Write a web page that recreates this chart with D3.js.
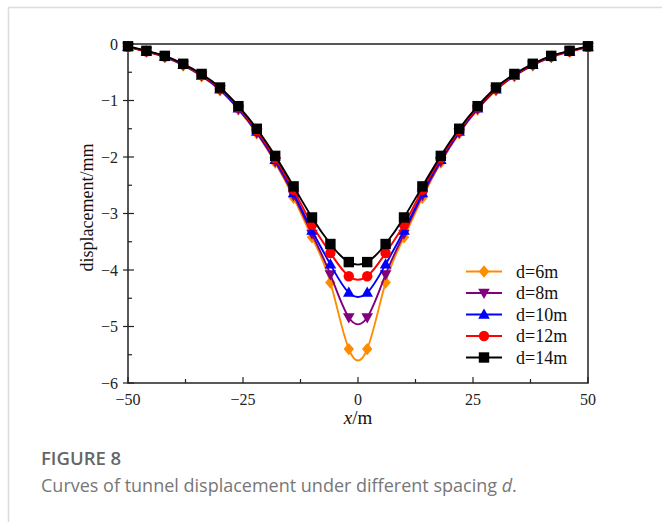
<!DOCTYPE html>
<html>
<head>
<meta charset="utf-8" />
<script src="https://d3js.org/d3.v7.min.js"></script>
<style>
  body { margin: 0; background: #fff; }
  svg { display: block; }
  .caption-title { font-family: "Open Sans", "Noto Sans", sans-serif; font-weight: 600; fill: #666; }
  .caption-text { font-family: "Open Sans", "Noto Sans", sans-serif; fill: #777; }
</style>
</head>
<body>
<div id="chart"></div>
<script>
// x positions (m)
var xs = [-50, -46, -42, -38, -34, -30, -26, -22, -18, -14, -10, -6, -2,
          2, 6, 10, 14, 18, 22, 26, 30, 34, 38, 42, 46, 50];

// displacement (mm) for each spacing d
var d6 = [-0.05, -0.14, -0.23, -0.38, -0.57, -0.82, -1.16, -1.58, -2.10, -2.72, -3.42, -4.22, -5.40,
          -5.40, -4.22, -3.42, -2.72, -2.10, -1.58, -1.16, -0.82, -0.57, -0.38, -0.23, -0.14, -0.05];
var d8 = [-0.05, -0.13, -0.23, -0.37, -0.56, -0.81, -1.15, -1.57, -2.08, -2.68, -3.36, -4.08, -4.84,
          -4.84, -4.08, -3.36, -2.68, -2.08, -1.57, -1.15, -0.81, -0.56, -0.37, -0.23, -0.13, -0.05];
var d10 = [-0.05, -0.13, -0.22, -0.37, -0.56, -0.80, -1.14, -1.55, -2.05, -2.64, -3.30, -3.90, -4.40,
           -4.40, -3.90, -3.30, -2.64, -2.05, -1.55, -1.14, -0.80, -0.56, -0.37, -0.22, -0.13, -0.05];
var d12 = [-0.05, -0.13, -0.22, -0.36, -0.55, -0.79, -1.12, -1.53, -2.02, -2.58, -3.20, -3.70, -4.11,
           -4.11, -3.70, -3.20, -2.58, -2.02, -1.53, -1.12, -0.79, -0.55, -0.36, -0.22, -0.13, -0.05];
var d14 = [-0.04, -0.12, -0.21, -0.35, -0.53, -0.77, -1.10, -1.50, -1.98, -2.52, -3.07, -3.54, -3.86,
           -3.86, -3.54, -3.07, -2.52, -1.98, -1.50, -1.10, -0.77, -0.53, -0.35, -0.21, -0.12, -0.04];

var labels = ["d=6m", "d=8m", "d=10m", "d=12m", "d=14m"];
var colors = ["#ff8c00", "#800080", "#0000ff", "#ff0000", "#000000"];
var symbols = ["diamond", "down", "up", "circle", "square"];
var xTicks = [-50, -25, 0, 25, 50];
var yTicks = [0, -1, -2, -3, -4, -5, -6];

var series = [d6, d8, d10, d12, d14].map(function (vals, i) {
  return {
    name: labels[i], color: colors[i], symbol: symbols[i],
    values: xs.map(function (x, j) { return { x: x, y: vals[j] }; })
  };
});

var W = 662, H = 522;
var margin = { top: 44, right: 74, bottom: 139, left: 128 };
var width = W - margin.left - margin.right,
    height = H - margin.top - margin.bottom;

var svg = d3.select("#chart").append("svg").attr("width", W).attr("height", H);

// panel border lines (top and left)
svg.append("line").attr("x1", 8).attr("x2", W).attr("y1", 7.5).attr("y2", 7.5)
  .attr("stroke", "#dcdcdc").attr("stroke-width", 1.5);
svg.append("line").attr("x1", 8.5).attr("x2", 8.5).attr("y1", 7).attr("y2", H)
  .attr("stroke", "#dcdcdc").attr("stroke-width", 1.5);

var g = svg.append("g").attr("transform", "translate(" + margin.left + "," + margin.top + ")");

var x = d3.scaleLinear().domain([-50, 50]).range([0, width]);
var y = d3.scaleLinear().domain([-6, 0]).range([height, 0]);

var serif = "'Liberation Serif', 'DejaVu Serif', serif";

// ticks (inward, minor between majors)
var xMinor = d3.range(-50, 50.1, 12.5);
var yMinor = d3.range(-6, 0.01, 0.5);
g.selectAll(".xminor").data(xMinor).enter().append("line")
  .attr("x1", function (d) { return x(d); }).attr("x2", function (d) { return x(d); })
  .attr("y1", height).attr("y2", function (d) { return height - (xTicks.indexOf(d) >= 0 ? 6 : 4); })
  .attr("stroke", "#222").attr("stroke-width", 1.2);
g.selectAll(".yminor").data(yMinor).enter().append("line")
  .attr("y1", function (d) { return y(d); }).attr("y2", function (d) { return y(d); })
  .attr("x1", function (d) { return yTicks.indexOf(d) >= 0 ? -5 : 0; })
  .attr("x2", function (d) { return yTicks.indexOf(d) >= 0 ? 6 : 4; })
  .attr("stroke", "#222").attr("stroke-width", 1.2);

// frame
g.append("rect").attr("x", 0).attr("y", 0).attr("width", width).attr("height", height)
  .attr("fill", "none").attr("stroke", "#222").attr("stroke-width", 1.5);

// tick labels
g.selectAll(".xlab").data(xTicks).enter().append("text")
  .attr("x", function (d) { return x(d); }).attr("y", height + 22)
  .attr("text-anchor", "middle").attr("font-family", serif).attr("font-size", 16).attr("fill", "#222")
  .text(function (d) { return d < 0 ? "\u2212" + (-d) : d; });
g.selectAll(".ylab").data(yTicks).enter().append("text")
  .attr("x", -10).attr("y", function (d) { return y(d) + 5.5; })
  .attr("text-anchor", "end").attr("font-family", serif).attr("font-size", 16).attr("fill", "#222")
  .text(function (d) { return d < 0 ? "\u2212" + (-d) : d; });

// axis titles
g.append("text").attr("x", width / 2).attr("y", height + 41)
  .attr("text-anchor", "middle").attr("font-family", serif).attr("font-size", 19).attr("fill", "#111")
  .html("<tspan font-style='italic'>x</tspan>/m");
g.append("text").attr("transform", "translate(" + (-35) + "," + (height / 2 - 6) + ") rotate(-90)")
  .attr("text-anchor", "middle").attr("font-family", serif).attr("font-size", 18).attr("fill", "#111")
  .text("displacement/mm");

// curves
var line = d3.line().x(function (d) { return x(d.x); }).y(function (d) { return y(d.y); })
  .curve(d3.curveNatural);

function marker(sel, s, color) {
  if (s === "circle") {
    sel.append("circle").attr("r", 5.2).attr("fill", color);
  } else if (s === "square") {
    sel.append("rect").attr("x", -5.2).attr("y", -5.2).attr("width", 10.4).attr("height", 10.4).attr("fill", color);
  } else if (s === "diamond") {
    sel.append("path").attr("d", "M0,-6.2L5.2,0L0,6.2L-5.2,0Z").attr("fill", color);
  } else if (s === "up") {
    sel.append("path").attr("d", "M0,-6L5.8,4.2L-5.8,4.2Z").attr("fill", color);
  } else if (s === "down") {
    sel.append("path").attr("d", "M0,6L5.8,-4.2L-5.8,-4.2Z").attr("fill", color);
  }
}

series.forEach(function (s) {
  g.append("path").datum(s.values).attr("d", line)
    .attr("fill", "none").attr("stroke", s.color).attr("stroke-width", 1.9);
  g.selectAll(null).data(s.values).enter().append("g")
    .attr("transform", function (d) { return "translate(" + x(d.x) + "," + y(d.y) + ")"; })
    .each(function () { marker(d3.select(this), s.symbol, s.color); });
});

// legend
var legend = g.append("g").attr("transform", "translate(" + (466 - margin.left) + "," + (271.5 - margin.top) + ")");
series.forEach(function (s, i) {
  var row = legend.append("g").attr("transform", "translate(0," + (i * 21.5) + ")");
  row.append("line").attr("x1", 0).attr("x2", 36).attr("y1", 0).attr("y2", 0)
    .attr("stroke", s.color).attr("stroke-width", 1.9);
  marker(row.append("g").attr("transform", "translate(18,0)"), s.symbol, s.color);
  row.append("text").attr("x", 50).attr("y", 6).attr("font-family", serif).attr("font-size", 18)
    .attr("fill", "#111").text(s.name);
});

// caption
svg.append("text").attr("class", "caption-title").attr("x", 41).attr("y", 465)
  .attr("font-size", 18.5).text("FIGURE 8");
svg.append("text").attr("class", "caption-text").attr("x", 41).attr("y", 492)
  .attr("font-size", 18)
  .html("Curves of tunnel displacement under different spacing <tspan font-style='italic'>d</tspan>.");
</script>
</body>
</html>
